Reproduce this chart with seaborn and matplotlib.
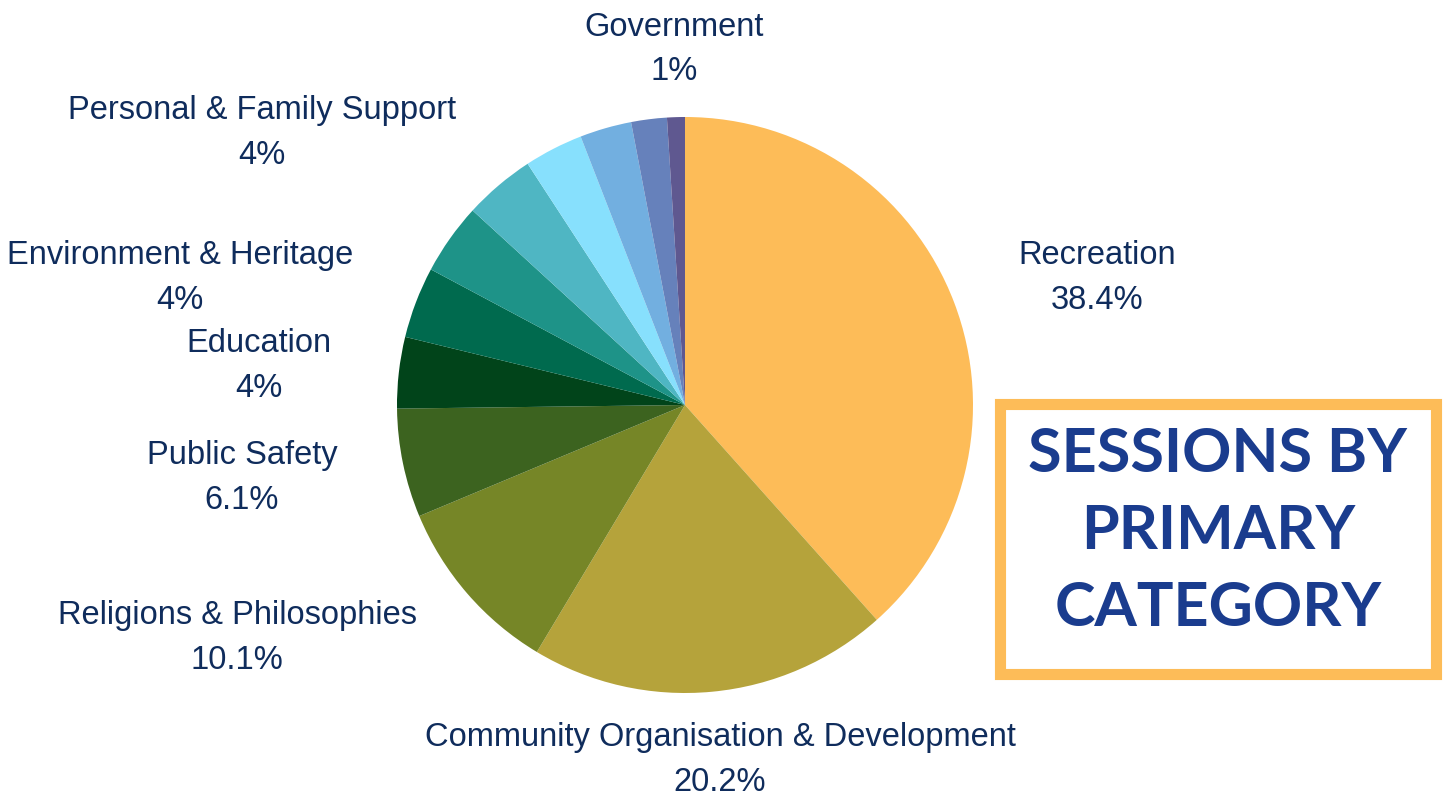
import matplotlib
matplotlib.use("Agg")
import matplotlib.pyplot as plt
from matplotlib.patches import Rectangle
import seaborn as sns

# slices clockwise from 12 o'clock
categories = [
    "Recreation",
    "Community Organisation & Development",
    "Religions & Philosophies",
    "Public Safety",
    "Education",
    "Environment & Heritage",
    "Personal & Family Support",
    "",
    "",
    "",
    "",
    "Government",
]
shares = [38.4, 20.2, 10.1, 6.1, 4, 4, 4, 4, 3.3, 2.9, 2, 1]
colors = [
    "#fdbc58", "#b5a33b", "#768627", "#3c631f", "#01441a", "#006a4e",
    "#1e9388", "#4fb6c3", "#87e0fd", "#72afe0", "#6681bb", "#5f5890",
]
title_lines = ["SESSIONS BY", "PRIMARY", "CATEGORY"]

# label centres in pixels (x, y of first line)
label_pos = {
    "Recreation": (1097, 255),
    "Community Organisation & Development": (720, 737),
    "Religions & Philosophies": (237, 615),
    "Public Safety": (242, 455),
    "Education": (259, 343),
    "Environment & Heritage": (180, 255),
    "Personal & Family Support": (262, 110),
    "Government": (674, 27),
}

sns.set_theme(style="white")
plt.rcParams["font.family"] = ["Liberation Sans", "DejaVu Sans"]

W, H = 1453, 805
fig = plt.figure(figsize=(W / 100, H / 100), dpi=100)
fig.patch.set_facecolor("white")

cx, cy, r = 685, 405, 288
ax = fig.add_axes([(cx - r) / W, (H - cy - r) / H, 2 * r / W, 2 * r / H])
ax.pie(shares, colors=colors, startangle=90, counterclock=False,
       radius=1, wedgeprops=dict(linewidth=0))
ax.set_xlim(-1, 1)
ax.set_ylim(-1, 1)
ax.axis("off")

txt_color = "#0f2c5c"
for name, val in zip(categories, shares):
    if name not in label_pos:
        continue
    x, y = label_pos[name]
    fig.text(x / W, 1 - y / H, name, ha="center", va="center",
             fontsize=23.5, color=txt_color)
    fig.text(x / W, 1 - (y + 45) / H, f"{val:g}%", ha="center", va="center",
             fontsize=23.5, color=txt_color)

# title box
fig.patches.append(Rectangle((1000 / W, 1 - 674 / H), 436 / W, 270 / H,
                             transform=fig.transFigure, fill=False,
                             edgecolor="#fdbc58", linewidth=8))
for i, line in enumerate(title_lines):
    fig.text(1218 / W, 1 - (454 + 77 * i) / H, line, ha="center", va="center",
             fontsize=44, color="#1a3c8e", fontweight="bold",
             family="Lato")

fig.savefig("out.png", dpi=100)
